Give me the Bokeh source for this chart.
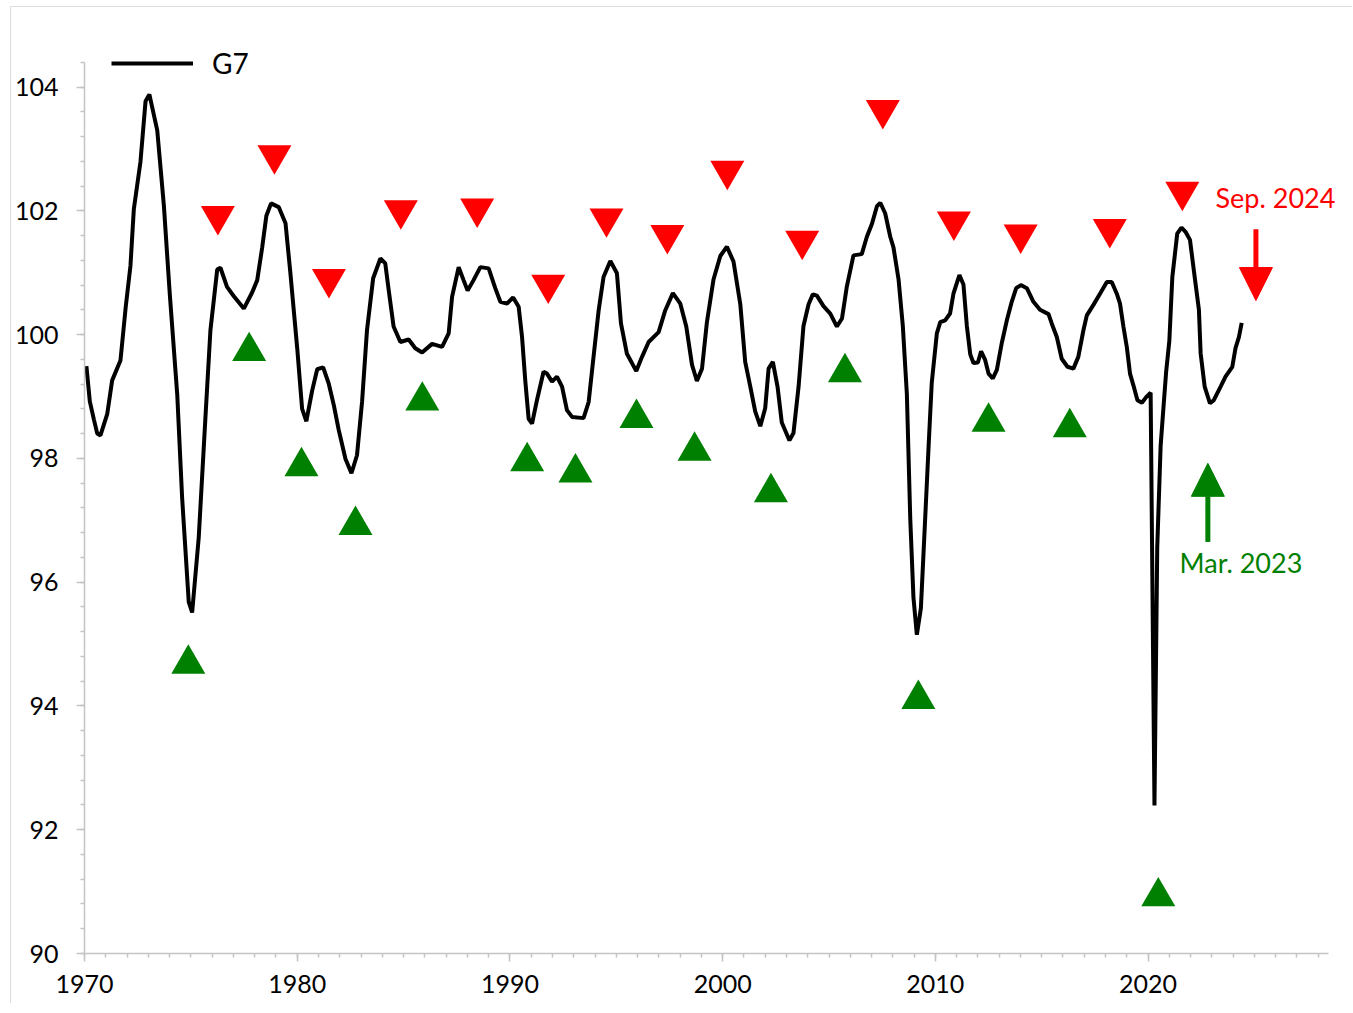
from bokeh.plotting import figure
from bokeh.models import (FixedTicker, Range1d, Legend, LegendItem, Arrow,
                          NormalHead, Label)
from bokeh.embed import file_html
from bokeh.resources import INLINE

# ---------------- data ----------------
line_years = [
    1970.09, 1970.25, 1970.44, 1970.60, 1970.75, 1971.07, 1971.30, 1971.69, 1971.93,
    1972.16, 1972.32, 1972.63, 1972.87, 1973.05, 1973.42, 1973.73, 1974.01, 1974.36,
    1974.59, 1974.90, 1975.06, 1975.37, 1975.69, 1975.92, 1976.24, 1976.39, 1976.70,
    1977.02, 1977.49, 1977.88, 1978.12, 1978.35, 1978.55, 1978.77, 1979.13, 1979.45,
    1979.68, 1980.00, 1980.23, 1980.43, 1980.70, 1980.94, 1981.22, 1981.48, 1981.72,
    1981.95, 1982.27, 1982.55, 1982.81, 1983.05, 1983.28, 1983.57, 1983.91, 1984.14,
    1984.30, 1984.53, 1984.85, 1985.24, 1985.55, 1985.87, 1986.34, 1986.81, 1987.12,
    1987.28, 1987.59, 1987.82, 1988.01, 1988.29, 1988.61, 1989.00, 1989.31, 1989.55,
    1989.86, 1990.15, 1990.41, 1990.57, 1990.72, 1990.88, 1991.04, 1991.27, 1991.58,
    1991.74, 1991.98, 1992.21, 1992.45, 1992.68, 1992.92, 1993.46, 1993.70, 1993.93,
    1994.17, 1994.40, 1994.72, 1995.03, 1995.22, 1995.50, 1995.94, 1996.21, 1996.52,
    1996.99, 1997.30, 1997.66, 1998.01, 1998.29, 1998.56, 1998.79, 1999.03, 1999.26,
    1999.57, 1999.89, 2000.20, 2000.51, 2000.83, 2001.06, 2001.30, 2001.53, 2001.77,
    2002.00, 2002.16, 2002.36, 2002.58, 2002.78, 2003.14, 2003.33, 2003.57, 2003.80,
    2004.04, 2004.24, 2004.43, 2004.74, 2005.06, 2005.37, 2005.61, 2005.84, 2006.15,
    2006.54, 2006.78, 2007.02, 2007.25, 2007.41, 2007.64, 2007.88, 2008.03, 2008.27,
    2008.47, 2008.66, 2008.82, 2008.97, 2009.13, 2009.32, 2009.52, 2009.68, 2009.83,
    2010.07, 2010.23, 2010.46, 2010.69, 2010.85, 2011.13, 2011.32, 2011.48, 2011.64,
    2011.79, 2012.00, 2012.15, 2012.34, 2012.50, 2012.70, 2012.89, 2013.12, 2013.36,
    2013.59, 2013.80, 2014.02, 2014.30, 2014.61, 2014.92, 2015.32, 2015.47, 2015.71,
    2015.94, 2016.21, 2016.49, 2016.72, 2016.96, 2017.12, 2017.43, 2017.74, 2018.06,
    2018.29, 2018.53, 2018.68, 2018.84, 2019.00, 2019.15, 2019.31, 2019.50, 2019.71,
    2019.91, 2020.12, 2020.30, 2020.43, 2020.59, 2020.74, 2020.85, 2021.00, 2021.14,
    2021.37, 2021.57, 2021.76, 2021.97, 2022.15, 2022.39, 2022.47, 2022.66, 2022.91,
    2023.09, 2023.41, 2023.64, 2023.96, 2024.11, 2024.27, 2024.40,
]
g7_values = [
    99.49, 98.92, 98.63, 98.40, 98.37, 98.72, 99.26, 99.58, 100.42,
    101.11, 102.03, 102.79, 103.77, 103.88, 103.30, 102.09, 100.65, 99.03,
    97.36, 95.68, 95.51, 96.72, 98.69, 100.07, 101.05, 101.08, 100.77,
    100.62, 100.42, 100.68, 100.88, 101.40, 101.92, 102.12, 102.06, 101.80,
    100.99, 99.78, 98.80, 98.60, 99.09, 99.44, 99.47, 99.21, 98.86,
    98.46, 97.99, 97.76, 98.05, 98.92, 100.07, 100.91, 101.23, 101.15,
    100.72, 100.13, 99.88, 99.92, 99.78, 99.71, 99.85, 99.80, 100.02,
    100.61, 101.09, 100.88, 100.71, 100.88, 101.09, 101.07, 100.75, 100.53,
    100.50, 100.60, 100.45, 99.96, 99.26, 98.64, 98.56, 98.94, 99.40,
    99.37, 99.24, 99.32, 99.16, 98.78, 98.67, 98.65, 98.91, 99.64,
    100.39, 100.93, 101.19, 100.99, 100.18, 99.69, 99.41, 99.64, 99.88,
    100.04, 100.39, 100.67, 100.50, 100.13, 99.51, 99.25, 99.45, 100.20,
    100.89, 101.27, 101.42, 101.18, 100.49, 99.56, 99.16, 98.76, 98.52,
    98.81, 99.45, 99.56, 99.16, 98.58, 98.29, 98.41, 99.16, 100.14,
    100.49, 100.65, 100.63, 100.46, 100.34, 100.13, 100.26, 100.78, 101.28,
    101.30, 101.58, 101.79, 102.07, 102.13, 101.96, 101.58, 101.41, 100.89,
    100.14, 99.04, 97.02, 95.75, 95.15, 95.58, 97.02, 98.18, 99.22,
    100.02, 100.20, 100.23, 100.34, 100.66, 100.96, 100.81, 100.14, 99.68,
    99.54, 99.55, 99.73, 99.59, 99.37, 99.29, 99.43, 99.86, 100.23,
    100.53, 100.75, 100.80, 100.75, 100.53, 100.40, 100.33, 100.18, 99.96,
    99.61, 99.48, 99.45, 99.64, 100.07, 100.31, 100.48, 100.66, 100.85,
    100.85, 100.66, 100.50, 100.13, 99.80, 99.37, 99.18, 98.94, 98.90,
    98.99, 99.06, 92.39, 96.56, 98.20, 98.90, 99.40, 99.90, 100.93,
    101.63, 101.73, 101.66, 101.53, 101.04, 100.40, 99.70, 99.16, 98.89,
    98.94, 99.16, 99.32, 99.48, 99.78, 99.96, 100.19,
]

peak_years = [1976.27, 1978.93, 1981.49, 1984.87, 1988.46, 1991.80, 1994.54, 1997.40,
              2000.22, 2003.74, 2007.53, 2010.87, 2014.01, 2018.20, 2021.61]
peak_marks = [101.92, 102.90, 100.90, 102.01, 102.04, 100.81, 101.88, 101.61,
              102.65, 101.52, 103.63, 101.83, 101.62, 101.71, 102.31]

trough_years = [1974.88, 1977.74, 1980.20, 1982.74, 1985.88, 1990.81, 1993.08, 1995.95,
                1998.68, 2002.27, 2005.75, 2009.20, 2012.50, 2016.32, 2020.48]
trough_marks = [94.68, 99.73, 97.87, 96.92, 98.93, 97.95, 97.77, 98.65,
                98.12, 97.45, 99.39, 94.11, 98.59, 98.50, 90.92]

x_major_ticks = [1970, 1980, 1990, 2000, 2010, 2020]
y_major_ticks = [90, 92, 94, 96, 98, 100, 102, 104]

sep_label = "Sep. 2024"
mar_label = "Mar. 2023"
sep_arrow = dict(x=2025.07, y_from=101.70, y_to=100.55)
mar_arrow = dict(x=2022.81, y_from=96.65, y_to=97.92)

# ---------------- figure ----------------
FONT = "Lato"
AXIS_GRAY = "#C4C4C4"

p = figure(frame_width=1268, frame_height=916,
           x_range=Range1d(1970, 2029.61), y_range=Range1d(90, 104.8),
           output_backend="svg", toolbar_location=None,
           min_border_left=73, min_border_top=30,
           min_border_right=0, min_border_bottom=50)
p.margin = (6, 0, 0, 10)
p.styles = {"border-top": "1px solid #DCDCDC", "border-left": "1px solid #DCDCDC"}
p.outline_line_color = None
p.xgrid.visible = False
p.ygrid.visible = False
p.background_fill_color = "white"
p.border_fill_color = "white"

# axes
p.xaxis.ticker = FixedTicker(ticks=x_major_ticks,
                             minor_ticks=list(range(1970, 2029)))
p.yaxis.ticker = FixedTicker(ticks=y_major_ticks,
                             minor_ticks=[round(90 + 0.4 * i, 1) for i in range(37)])
p.xaxis.bounds = (1970, 2028.5)
p.yaxis.bounds = (90, 104.4)
for ax in (p.xaxis, p.yaxis):
    ax.axis_line_color = AXIS_GRAY
    ax.axis_line_width = 1.5
    ax.major_tick_line_color = AXIS_GRAY
    ax.major_tick_line_width = 1.5
    ax.minor_tick_line_color = AXIS_GRAY
    ax.minor_tick_line_width = 1.5
    ax.major_tick_in = 0
    ax.major_tick_out = 8
    ax.minor_tick_in = 0
    ax.minor_tick_out = 4
    ax.major_label_text_font = FONT
    ax.major_label_text_font_size = "25px"
    ax.major_label_text_color = "black"
p.xaxis.major_label_standoff = 13
p.yaxis.major_label_standoff = 18

# series
r_line = p.line(line_years, g7_values, line_color="black", line_width=4)

p.scatter(peak_years, peak_marks, marker="inverted_triangle", size=34,
          fill_color="#FF0000", line_color="#FF0000", line_width=0)
p.scatter(trough_years, trough_marks, marker="triangle", size=34,
          fill_color="#008000", line_color="#008000", line_width=0)

# legend
legend = Legend(items=[LegendItem(label="G7", renderers=[r_line])],
                location=(27, 873), orientation="vertical",
                glyph_width=82, glyph_height=20, label_height=30,
                label_standoff=19, label_text_font=FONT,
                label_text_font_size="28px", label_text_color="black",
                padding=0, margin=0, spacing=0,
                border_line_color=None, background_fill_alpha=0)
p.add_layout(legend, "center")

# annotations
p.add_layout(Arrow(x_start=sep_arrow["x"], y_start=sep_arrow["y_from"],
                   x_end=sep_arrow["x"], y_end=sep_arrow["y_to"],
                   line_color="#FF0000", line_width=5,
                   end=NormalHead(size=33, fill_color="#FF0000",
                                  line_color="#FF0000", line_width=1)))
p.add_layout(Arrow(x_start=mar_arrow["x"], y_start=mar_arrow["y_from"],
                   x_end=mar_arrow["x"], y_end=mar_arrow["y_to"],
                   line_color="#008000", line_width=5,
                   end=NormalHead(size=33, fill_color="#008000",
                                  line_color="#008000", line_width=1)))
p.add_layout(Label(x=2023.17, y=102.21, text=sep_label, text_color="#FF0000",
                   text_font=FONT, text_font_size="27px",
                   text_align="left", text_baseline="middle"))
p.add_layout(Label(x=2021.48, y=96.32, text=mar_label, text_color="#008000",
                   text_font=FONT, text_font_size="27px",
                   text_align="left", text_baseline="middle"))

open("out.html", "w").write(file_html(p, INLINE))
